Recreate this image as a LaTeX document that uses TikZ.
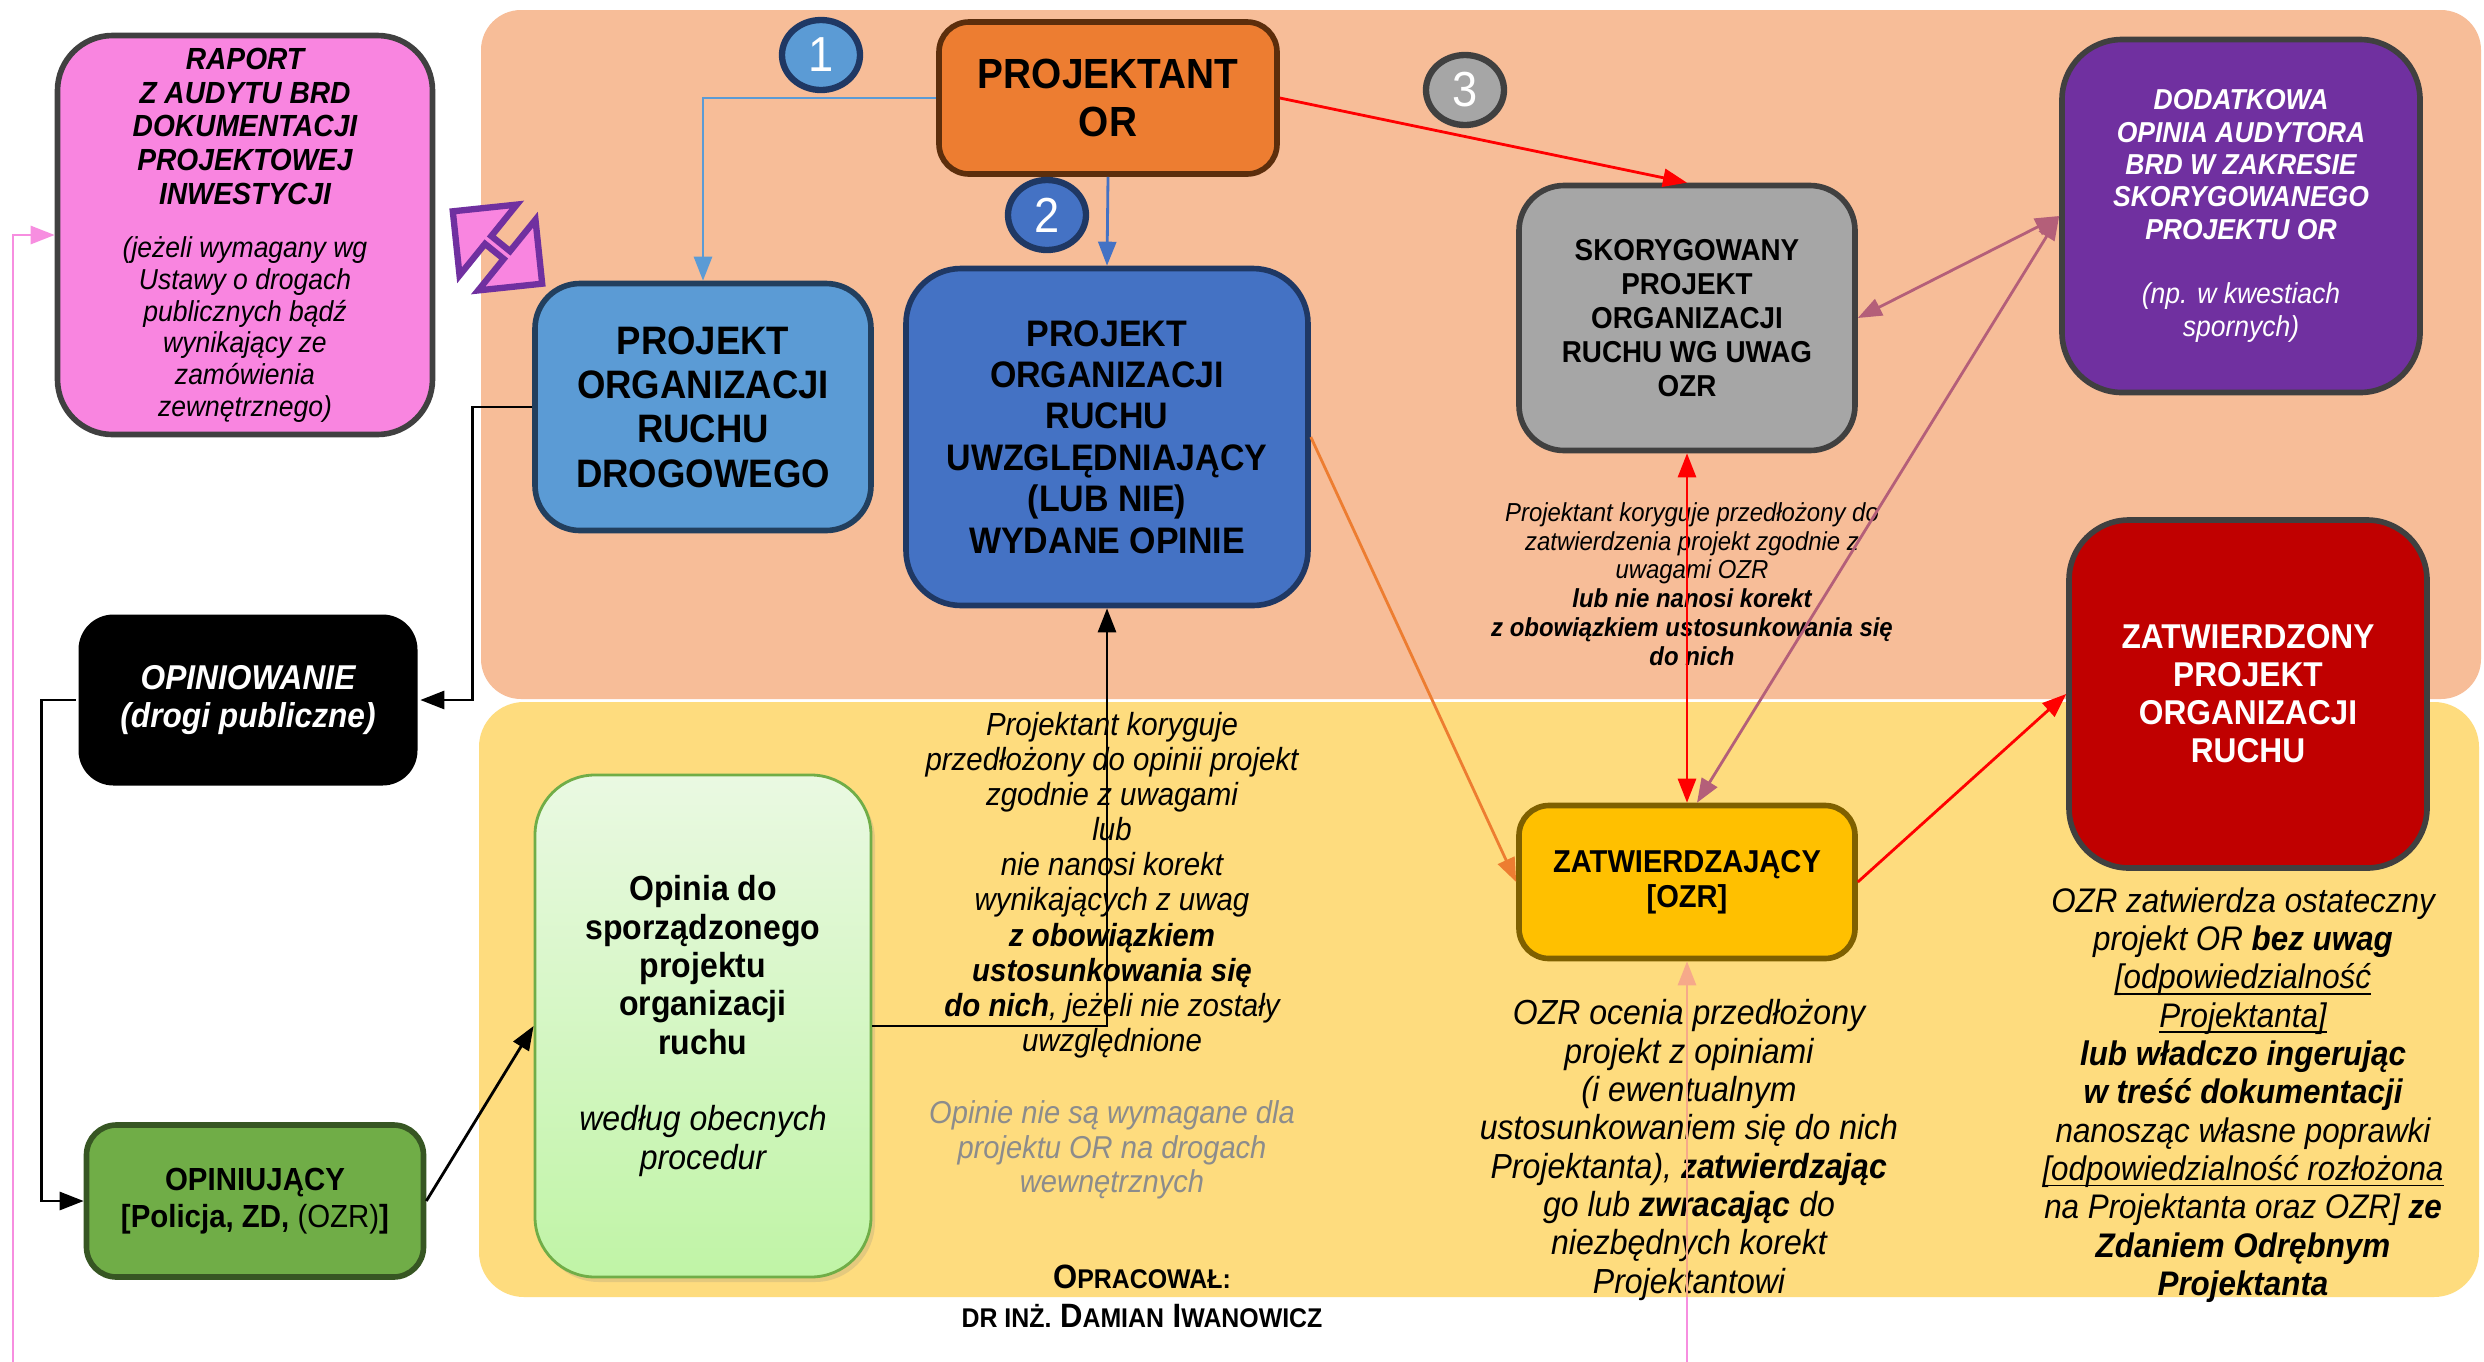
\documentclass[tikz,border=0pt]{standalone}
\usepackage{fontspec}
\setmainfont{Liberation Sans}[FakeStretch=0.92]
\usetikzlibrary{arrows.meta,shapes.geometric,shapes.arrows,shadows}

\definecolor{salmon}{HTML}{F7BD98}
\definecolor{yellowbg}{HTML}{FEDC7E}
\definecolor{raportpink}{HTML}{F985E0}
\definecolor{purplebox}{HTML}{7030A0}
\definecolor{lightblue}{HTML}{5B9BD5}
\definecolor{midblue}{HTML}{4472C4}
\definecolor{navyline}{HTML}{1F3864}
\definecolor{podline}{HTML}{223F5E}
\definecolor{orangebox}{HTML}{ED7D31}
\definecolor{brownline}{HTML}{5C2E0C}
\definecolor{graybox}{HTML}{A6A6A6}
\definecolor{darkline}{HTML}{404040}
\definecolor{redbox}{HTML}{C00000}
\definecolor{greenbox}{HTML}{70AD47}
\definecolor{greenline}{HTML}{375623}
\definecolor{goldbox}{HTML}{FFC000}
\definecolor{goldline}{HTML}{7F6000}
\definecolor{greentop}{HTML}{EAF9E2}
\definecolor{greenbot}{HTML}{C0F4A6}
\definecolor{mauve}{HTML}{B45F79}
\definecolor{pinkline}{HTML}{F78EE0}
\definecolor{peachline}{HTML}{F6A98A}
\definecolor{graytxt}{HTML}{8C8C8C}

\newcommand\lowcaps[1]{{\fontsize{7.7}{8}\selectfont #1}}
\newcommand\rapit[1]{{\mdseries\fontsize{8.2}{9}\selectfont #1}}
\newcommand\dodit[1]{{\mdseries #1}}
\newcommand\ul[1]{\underline{\smash{#1}}}

\tikzset{
  box/.style={draw, line width=1.6pt, align=center, inner sep=1pt},
  conn/.style={line width=0.8pt, -{Triangle[length=2.4mm,width=1.8mm]}},
  dconn/.style={line width=0.8pt, {Triangle[length=2.4mm,width=1.8mm]}-{Triangle[length=2.4mm,width=1.8mm]}},
  numdot/.style={ellipse, draw, line width=1.8pt, minimum width=0.78cm, minimum height=0.7cm,
    inner sep=0pt, text=white, font=\fontsize{14}{14}\selectfont},
  note/.style={align=center, inner sep=1pt}
}

\begin{document}
\begin{tikzpicture}
\useasboundingbox (0,0) rectangle (24.84,-13.62);
\fill[white] (0,0) rectangle (24.84,-13.62);

% panels
\fill[salmon, rounded corners=0.4cm] (4.81,-0.1) rectangle (24.81,-6.99);
\fill[yellowbg, rounded corners=0.45cm] (4.79,-7.02) rectangle (24.79,-12.97);

% boxes
\node[box, draw=darkline, fill=raportpink, rounded corners=0.55cm, minimum width=3.75cm, minimum height=3.99cm,
  font=\fontsize{8.7}{9}\selectfont\bfseries\itshape] (raport) at (2.45,-2.35)
  {RAPORT\\[0.6pt]Z AUDYTU BRD\\[0.6pt]DOKUMENTACJI\\[0.6pt]PROJEKTOWEJ\\[0.6pt]INWESTYCJI\\[2.2mm]\rapit{(jeżeli wymagany wg}\\\rapit{Ustawy o drogach}\\\rapit{publicznych bądź}\\\rapit{wynikający ze}\\\rapit{zamówienia}\\\rapit{zewnętrznego)}};
\node[double arrow, draw=purplebox, fill=raportpink, line width=1.8pt, minimum height=1.15cm, minimum width=0.91cm,
  double arrow head extend=0.255cm, inner sep=0pt, rotate=-39] (dblarrow) at (4.975,-2.475) {};
\node[box, draw=podline, fill=lightblue, rounded corners=0.45cm, minimum width=3.36cm, minimum height=2.47cm,
  font=\fontsize{11.3}{12.6}\selectfont\bfseries] (pod) at (7.03,-4.07) {PROJEKT\\ORGANIZACJI\\RUCHU\\DROGOWEGO};
\node[box, draw=brownline, fill=orangebox, rounded corners=0.3cm, minimum width=3.38cm, minimum height=1.52cm,
  font=\fontsize{12}{13.5}\selectfont\bfseries] (projektant) at (11.08,-0.98) {PROJEKTANT\\OR};
\node[box, draw=navyline, fill=midblue, rounded corners=0.55cm, minimum width=4.02cm, minimum height=3.37cm,
  font=\fontsize{10.5}{11.8}\selectfont\bfseries] (wydane) at (11.07,-4.37)
  {PROJEKT\\ORGANIZACJI\\RUCHU\\UWZGLĘDNIAJĄCY\\(LUB NIE)\\WYDANE OPINIE};
\node[box, draw=darkline, fill=graybox, rounded corners=0.45cm, minimum width=3.36cm, minimum height=2.65cm,
  font=\fontsize{8.6}{9.7}\selectfont\bfseries] (skor) at (16.87,-3.18)
  {SKORYGOWANY\\PROJEKT\\ORGANIZACJI\\RUCHU WG UWAG\\OZR};
\node[box, draw=darkline, fill=purplebox, text=white, rounded corners=0.6cm, minimum width=3.58cm, minimum height=3.53cm,
  font=\fontsize{8.2}{9.2}\selectfont\bfseries\itshape] (dodatkowa) at (22.41,-2.16)
  {DODATKOWA\\OPINIA AUDYTORA\\BRD W ZAKRESIE\\SKORYGOWANEGO\\PROJEKTU OR\\[9.2pt]\dodit{(np. w kwestiach}\\\dodit{spornych)}};
\node[box, draw=darkline, fill=redbox, text=white, rounded corners=0.6cm, minimum width=3.58cm, minimum height=3.48cm,
  font=\fontsize{9.8}{10.8}\selectfont\bfseries] (zatwierdzony) at (22.48,-6.94) {ZATWIERDZONY\\PROJEKT\\ORGANIZACJI\\RUCHU};
\node[box, draw=none, fill=black, text=white, rounded corners=0.35cm, minimum width=3.39cm, minimum height=1.71cm,
  font=\fontsize{9.8}{10.8}\selectfont\bfseries\itshape] (opiniowanie) at (2.48,-7.00) {OPINIOWANIE\\(drogi publiczne)};
\node[box, draw=greenbox, line width=0.8pt, top color=greentop, bottom color=greenbot, rounded corners=0.6cm,
  minimum width=3.36cm, minimum height=5.02cm, drop shadow={opacity=0.2, shadow xshift=0.04cm, shadow yshift=-0.05cm},
  font=\fontsize{9.9}{10.9}\selectfont\bfseries] (opinia) at (7.03,-10.26)
  {Opinia do\\sporządzonego\\projektu\\organizacji\\ruchu\\[10.9pt]\dodit{\itshape według obecnych}\\\dodit{\itshape procedur}};
\node[box, draw=greenline, fill=greenbox, rounded corners=0.3cm, minimum width=3.37cm, minimum height=1.52cm,
  font=\fontsize{9.1}{10.4}\selectfont\bfseries] (opiniujacy) at (2.55,-12.01) {OPINIUJĄCY\\{[}Policja, ZD, \dodit{(OZR)}{]}};
\node[box, draw=goldline, fill=goldbox, rounded corners=0.3cm, minimum width=3.36cm, minimum height=1.53cm,
  font=\fontsize{9}{9.9}\selectfont\bfseries] (zatw) at (16.87,-8.82) {ZATWIERDZAJĄCY\\{[}OZR{]}};

\node[numdot, draw=navyline, fill=lightblue] (n1) at (8.21,-0.55) {1};
\node[numdot, draw=navyline, fill=midblue] (n2) at (10.47,-2.15) {2};
\node[numdot, draw=darkline, fill=graybox] (n3) at (14.65,-0.90) {3};

% notes
\node[note, font=\fontsize{7.4}{8.2}\selectfont\itshape] (skornote) at (16.92,-5.84)
  {Projektant koryguje przedłożony do\\zatwierdzenia projekt zgodnie z\\uwagami OZR\\\textbf{lub nie nanosi korekt}\\\textbf{z obowiązkiem ustosunkowania się}\\\textbf{do nich}};
\node[note, font=\fontsize{9.1}{10}\selectfont\itshape] (midnote) at (11.12,-8.85)
  {Projektant koryguje\\przedłożony do opinii projekt\\zgodnie z uwagami\\lub\\nie nanosi korekt\\wynikających z uwag\\\textbf{z obowiązkiem}\\\textbf{ustosunkowania się}\\\textbf{do nich}, jeżeli nie zostały\\uwzględnione};
\node[note, text=graytxt, font=\fontsize{9}{9.9}\selectfont\itshape] (graynote) at (11.12,-11.50)
  {Opinie nie są wymagane dla\\projektu OR na drogach\\wewnętrznych};
\node[note, font=\fontsize{9.9}{10.9}\selectfont\itshape] (ozrnote) at (16.89,-11.50)
  {OZR ocenia przedłożony\\projekt z opiniami\\(i ewentualnym\\ustosunkowaniem się do nich\\Projektanta), \textbf{zatwierdzając}\\go lub \textbf{zwracając} do\\niezbędnych korekt\\Projektantowi};
\node[note, font=\fontsize{9.7}{10.9}\selectfont\itshape] (finalnote) at (22.43,-10.95)
  {OZR zatwierdza ostateczny\\projekt OR \textbf{bez uwag}\\\ul{[odpowiedzialność}\\\ul{Projektanta]}\\\textbf{lub władczo ingerując}\\\textbf{w treść dokumentacji}\\nanosząc własne poprawki\\\ul{[odpowiedzialność rozłożona}\\na Projektanta oraz OZR] \textbf{ze}\\\textbf{Zdaniem Odrębnym}\\\textbf{Projektanta}};
\node[font=\fontsize{9.6}{10}\selectfont\bfseries] (opr) at (11.42,-12.77) {O\lowcaps{PRACOWAŁ:}};
\node[font=\fontsize{9.6}{10}\selectfont\bfseries] (autor) at (11.42,-13.16) {\lowcaps{DR INŻ.} D\lowcaps{AMIAN} I\lowcaps{WANOWICZ}};

% connectors
\coordinate (pinkL) at (0.13,-13.62);
\coordinate (pinkB) at (16.87,-13.62);
\coordinate (yelB) at (16.87,-12.97);
\draw[conn, pinkline] (pinkL) |- (raport.west);
\draw[pinkline, line width=0.8pt] (pinkB) -- (yelB);
\draw[conn, peachline] (yelB) -- (zatw.south);
\draw[conn, lightblue] (projektant.west) -| (pod.north);
\draw[conn, midblue] (projektant.south) -- (wydane.north);
\draw[conn, red] (projektant.east) -- (skor.north);
\draw[conn] (pod.west) -- ++(-0.6,0) |- (opiniowanie.east);
\draw[conn] (opiniowanie.west) -- ++(-0.34,0) |- (opiniujacy.west);
\draw[conn] (opiniujacy.east) -- (opinia.west);
\draw[conn] (opinia.east) -| (wydane.south);
\draw[conn, orangebox] (wydane.east) -- (zatw.west);
\draw[dconn, red] (skor.south) -- (zatw.north);
\draw[dconn, mauve] (skor.east) -- (dodatkowa.west);
\draw[dconn, mauve] ([xshift=1mm]zatw.north) -- (dodatkowa.west);
\draw[conn, red] (zatw.east) -- (zatwierdzony.west);
\end{tikzpicture}
\end{document}
